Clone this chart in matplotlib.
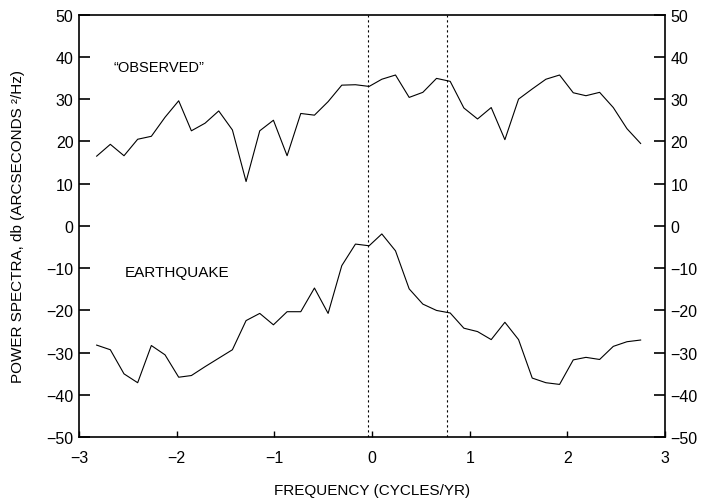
import matplotlib.pyplot as plt

plt.rcParams['font.family'] = ['Liberation Sans', 'DejaVu Sans']

# frequency grid (cycles/yr)
freq = [-2.82, -2.68, -2.54, -2.40, -2.26, -2.12, -1.98, -1.85, -1.71, -1.57,
        -1.43, -1.29, -1.15, -1.01, -0.87, -0.73, -0.59, -0.45, -0.31, -0.17,
        -0.03, 0.10, 0.24, 0.38, 0.52, 0.66, 0.80, 0.94, 1.08, 1.22,
        1.36, 1.50, 1.64, 1.78, 1.92, 2.06, 2.19, 2.33, 2.47, 2.61, 2.75]

observed = [16.5, 19.3, 16.6, 20.5, 21.2, 25.7, 29.6, 22.5, 24.3, 27.2,
            22.7, 10.5, 22.5, 25.0, 16.6, 26.6, 26.2, 29.4, 33.3, 33.4,
            33.0, 34.7, 35.7, 30.4, 31.6, 34.9, 34.2, 27.9, 25.3, 28.0,
            20.4, 30.0, 32.4, 34.7, 35.7, 31.5, 30.8, 31.6, 28.0, 23.0, 19.5]

earthquake = [-28.2, -29.3, -35.0, -37.1, -28.3, -30.5, -35.8, -35.4, -33.3, -31.3,
              -29.3, -22.4, -20.7, -23.4, -20.3, -20.3, -14.7, -20.7, -9.4, -4.3,
              -4.7, -1.9, -5.9, -14.9, -18.5, -20.0, -20.6, -24.2, -25.0, -26.9,
              -22.8, -26.9, -36.0, -37.1, -37.5, -31.7, -31.1, -31.6, -28.5, -27.4, -27.0]

markers = [-0.04, 0.77]

fig = plt.figure(figsize=(7.06, 5.02), dpi=100)
ax = fig.add_axes([0.112, 0.127, 0.830, 0.842])

ax.plot(freq, observed, color='black', lw=0.8)
ax.plot(freq, earthquake, color='black', lw=0.8)
for m in markers:
    ax.axvline(m, color='black', lw=0.8, linestyle=(0, (2, 2.5)))

ax.text(-2.65, 37.5, '\u201cOBSERVED\u201d', fontsize=10.5, va='center')
ax.text(-2.53, -11, 'EARTHQUAKE', fontsize=11, va='center')

ax.set_xlim(-3, 3)
ax.set_ylim(-50, 50)
ax.set_xticks([-3, -2, -1, 0, 1, 2, 3])
ax.set_yticks(range(-50, 51, 10))
ax.tick_params(axis='y', direction='in', length=8, width=1.2, labelsize=11.5,
               right=True, labelright=True, pad=4)
ax.tick_params(axis='x', direction='in', length=4, width=1, labelsize=11.5,
               top=False, pad=9)
for s in ax.spines.values():
    s.set_linewidth(1.2)

ax.set_xlabel('FREQUENCY (CYCLES/YR)', fontsize=11, labelpad=13)
ax.set_ylabel('POWER SPECTRA, db (ARCSECONDS \u00b2/Hz)', fontsize=11, labelpad=15)

fig.savefig('out.png', dpi=100)
